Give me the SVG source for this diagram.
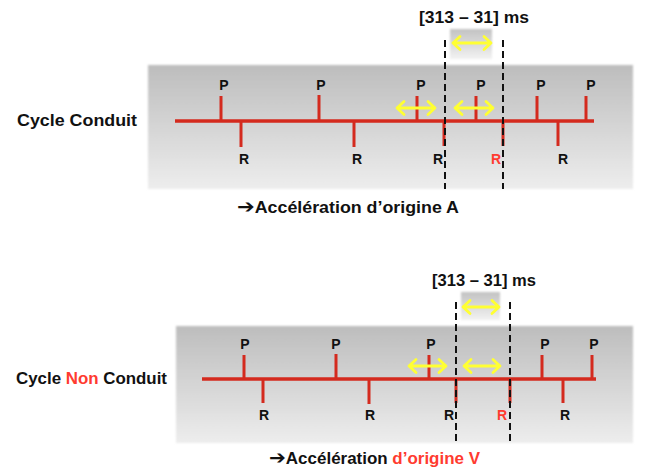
<svg xmlns="http://www.w3.org/2000/svg" width="656" height="476" viewBox="0 0 656 476">
<defs>
<linearGradient id="panelGrad" x1="0" y1="0" x2="0" y2="1">
<stop offset="0" stop-color="#bdbdbd"/>
<stop offset="1" stop-color="#ededed"/>
</linearGradient>
<linearGradient id="boxGrad" x1="0" y1="0" x2="0" y2="1">
<stop offset="0" stop-color="#c2c2c2"/>
<stop offset="1" stop-color="#f2f2f2"/>
</linearGradient>
<filter id="soft" x="-10%" y="-10%" width="120%" height="120%">
<feGaussianBlur stdDeviation="0.8"/>
</filter>
</defs>
<style>
.panel{fill:url(#panelGrad);filter:url(#soft)}
.box{fill:url(#boxGrad);filter:url(#soft)}
.axis{stroke:#d42a1e;stroke-width:3.5;fill:none}
.tick{stroke:#d42a1e;stroke-width:3;fill:none}
.lbl{font-family:"Liberation Sans",Arial,sans-serif;font-weight:bold;font-size:14px;fill:#111;text-anchor:middle}
.red{fill:#ff3b30}
.cap{font-family:"Liberation Sans",Arial,sans-serif;font-weight:bold;font-size:16px;fill:#111}
.arr{font-family:"DejaVu Sans",sans-serif;font-size:19px}
.dash{stroke:#111;stroke-width:2;stroke-dasharray:7 4;fill:none}
.yarr{stroke:#ffff33;stroke-width:2.8;fill:none;stroke-linecap:round;stroke-linejoin:round}
</style>

<!-- Panel 1: Cycle Conduit -->
<g id="panel-conduit">
<rect class="panel" x="148" y="65" width="485" height="124"/>
</g>
<g id="box-top-1"><rect class="box" x="450" y="29" width="42" height="30"/></g>
<g id="label-cycle-conduit">
<text class="cap" x="17" y="126" textLength="120" lengthAdjust="spacingAndGlyphs">Cycle Conduit</text>
</g>
<g id="title-1">
<text class="cap" x="419" y="23" textLength="110" lengthAdjust="spacingAndGlyphs">[313 – 31] ms</text>
</g>
<g id="timeline-1">
<line class="axis" x1="175" y1="121" x2="594" y2="121"/>
<path class="tick" d="M221 121V96M319 121V95M417 121V96M476 121V96M537 121V96M586 121V96"/>
<path class="tick" d="M241 121V147M354 121V147M444 121V146M503 121V146M558 121V146"/>
<text class="lbl" x="224" y="90">P</text>
<text class="lbl" x="321" y="90">P</text>
<text class="lbl" x="421" y="90">P</text>
<text class="lbl" x="481" y="90">P</text>
<text class="lbl" x="541" y="90">P</text>
<text class="lbl" x="591" y="90">P</text>
<text class="lbl" x="244" y="164">R</text>
<text class="lbl" x="357" y="164">R</text>
<text class="lbl" x="438" y="164">R</text>
<text class="lbl red" x="496" y="164">R</text>
<text class="lbl" x="563" y="164">R</text>
</g>
<g id="result-1">
<text class="cap" x="237" y="213" textLength="222" lengthAdjust="spacingAndGlyphs"><tspan class="arr">➔</tspan>Accélération d’origine A</text>
</g>

<!-- Panel 2: Cycle Non Conduit -->
<g id="panel-non-conduit">
<rect class="panel" x="176" y="326" width="457" height="117"/>
</g>
<g id="box-top-2"><rect class="box" x="461" y="292" width="39" height="28"/></g>
<g id="label-cycle-non-conduit">
<text class="cap" x="16" y="384" textLength="151" lengthAdjust="spacingAndGlyphs">Cycle <tspan class="red">Non</tspan> Conduit</text>
</g>
<g id="title-2">
<text class="cap" x="432" y="286" textLength="104" lengthAdjust="spacingAndGlyphs">[313 – 31] ms</text>
</g>
<g id="timeline-2">
<line class="axis" x1="202" y1="379" x2="596" y2="379"/>
<path class="tick" d="M244 379V355M336 379V354M429 379V355M542 379V355M592 379V355"/>
<path class="tick" d="M263 379V403M369 379V404M456 379V403M510 379V403M563 379V403"/>
<text class="lbl" x="245" y="349">P</text>
<text class="lbl" x="336" y="349">P</text>
<text class="lbl" x="431" y="349">P</text>
<text class="lbl" x="545" y="349">P</text>
<text class="lbl" x="594" y="349">P</text>
<text class="lbl" x="264" y="420">R</text>
<text class="lbl" x="370" y="420">R</text>
<text class="lbl" x="449" y="420">R</text>
<text class="lbl red" x="502" y="420">R</text>
<text class="lbl" x="565" y="420">R</text>
</g>
<g id="result-2">
<text class="cap" x="269" y="464" textLength="211" lengthAdjust="spacingAndGlyphs"><tspan class="arr">➔</tspan>Accélération <tspan class="red">d’origine V</tspan></text>
</g>

<g id="connectors">
<line class="dash" x1="445" y1="40" x2="445" y2="189"/>
<line class="dash" x1="503" y1="40" x2="503" y2="189"/>
<path class="yarr" d="M453 43H491M460 36.5L453 43L460 49.5M484 36.5L491 43L484 49.5"/>
<path class="yarr" d="M397 108H435M404 101.5L397 108L404 114.5M428 101.5L435 108L428 114.5"/>
<path class="yarr" d="M455 108H493M462 101.5L455 108L462 114.5M486 101.5L493 108L486 114.5"/>
<line class="dash" x1="456" y1="302" x2="456" y2="443"/>
<line class="dash" x1="510" y1="302" x2="510" y2="443"/>
<path class="yarr" d="M463 307H499M470 300.5L463 307L470 313.5M492 300.5L499 307L492 313.5"/>
<path class="yarr" d="M409 366H446M416 359.5L409 366L416 372.5M439 359.5L446 366L439 372.5"/>
<path class="yarr" d="M464 366H500M471 359.5L464 366L471 372.5M493 359.5L500 366L493 372.5"/>
</g>
</svg>
